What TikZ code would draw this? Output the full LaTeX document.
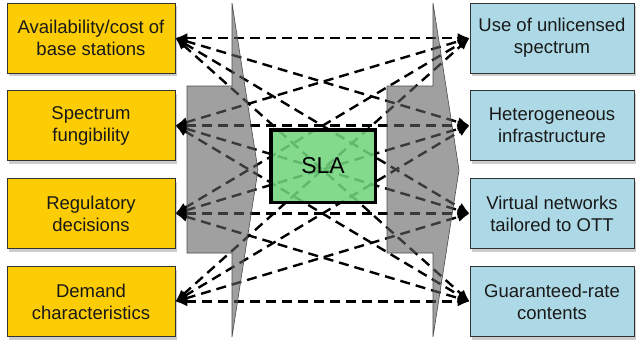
\documentclass[tikz,border=0pt]{standalone}
\usepackage{fontspec}
\setmainfont{Liberation Sans}
\usetikzlibrary{arrows.meta,shadows}
\definecolor{boxyellow}{RGB}{252,204,4}
\definecolor{boxblue}{RGB}{173,217,230}
\definecolor{slagreen}{RGB}{112,212,124}
\definecolor{arrowgrey}{RGB}{97,97,97}
\begin{document}
\begin{tikzpicture}[x=1pt,y=-1pt,
  box/.style={draw=black!80, line width=0.8pt, minimum height=70pt, inner sep=0pt,
    align=center, text=black!90, font=\fontsize{18.5}{22}\selectfont,
    drop shadow={shadow xshift=1.5pt, shadow yshift=-3pt, opacity=0.4}},
  lbox/.style={box, fill=boxyellow, minimum width=168pt},
  rbox/.style={box, fill=boxblue, minimum width=164pt},
  conn/.style={line width=2.4pt, dash pattern=on 10pt off 6pt,
    {Latex[length=12pt,width=10pt]}-{Latex[length=12pt,width=10pt]}},
  bigarrow/.style={fill=arrowgrey, fill opacity=0.6, draw=black!70, line width=0.6pt},
  slabox/.style={draw=black, line width=3.5pt, fill=slagreen, fill opacity=0.87,
    text opacity=1, minimum width=104.5pt, minimum height=72.5pt,
    font=\fontsize{23}{27}\selectfont}
]
\useasboundingbox (0,0) rectangle (637,349);

\node[lbox] (L1) at (91,38)    {Availability/cost of\\base stations};
\node[lbox] (L2) at (91,125.5) {Spectrum\\fungibility};
\node[lbox] (L3) at (91,213.5) {Regulatory\\decisions};
\node[lbox] (L4) at (91,301.5) {Demand\\characteristics};
\node[rbox] (R1) at (552,38)    {Use of unlicensed\\spectrum};
\node[rbox] (R2) at (552,125.5) {Heterogeneous\\infrastructure};
\node[rbox] (R3) at (552,213.5) {Virtual networks\\tailored to OTT};
\node[rbox] (R4) at (552,301.5) {Guaranteed-rate\\contents};

\foreach \i in {1,...,4}
  \foreach \j in {1,...,4}
    \draw[conn] (L\i.east) -- (R\j.west);

\draw[bigarrow] (187,86) -- (232,86) -- (232,3) -- (258,170) -- (232,337) -- (232,253) -- (187,253) -- cycle;
\draw[bigarrow] (387,86) -- (433,86) -- (433,3) -- (459,170) -- (433,337) -- (433,253) -- (387,253) -- cycle;

\node[slabox] (SLA) at (323,166) {SLA};
\end{tikzpicture}
\end{document}
